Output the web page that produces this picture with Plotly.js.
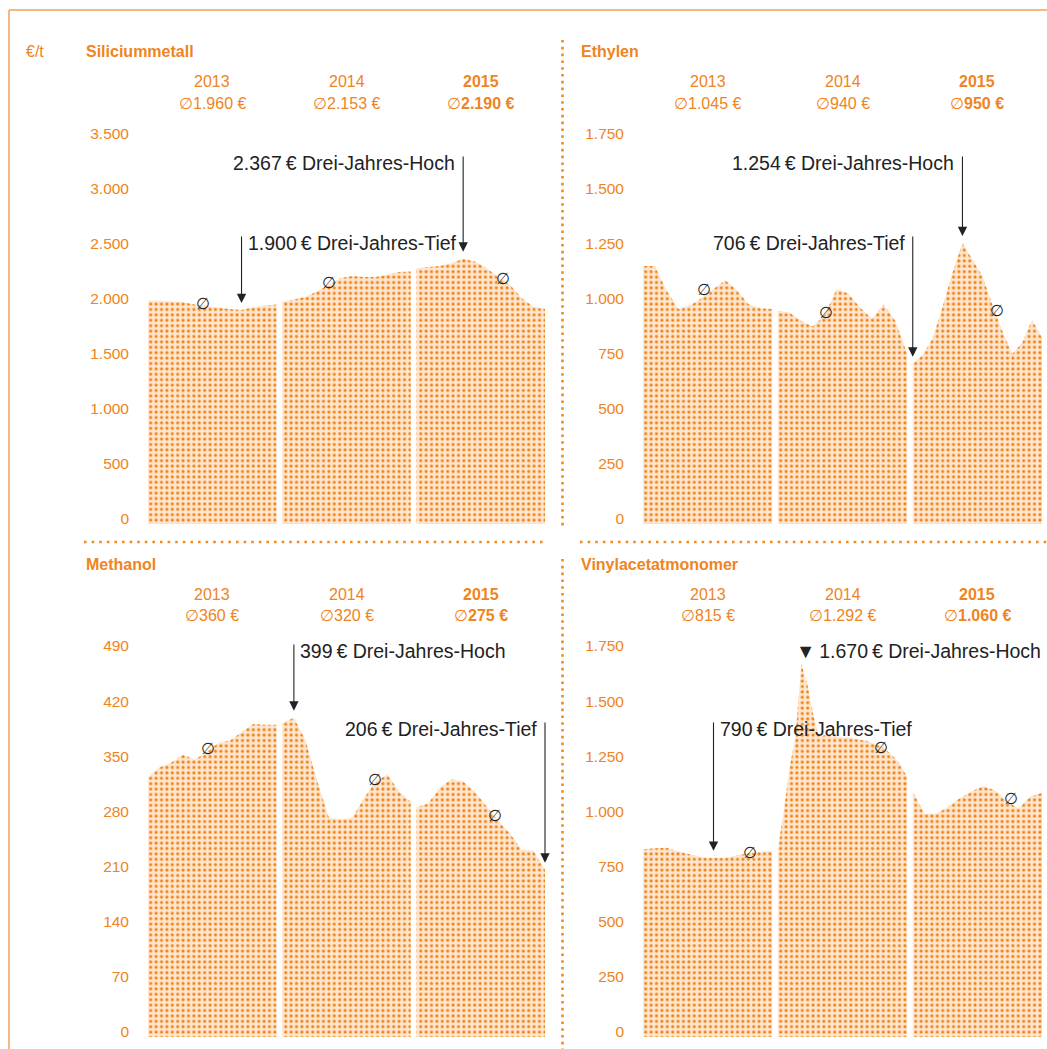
<!DOCTYPE html>
<html>
<head>
<meta charset="utf-8">
<script src="https://cdn.plot.ly/plotly-3.0.1.min.js"></script>
<style>html,body{margin:0;padding:0;background:#fff}#chart{width:1047px;height:1049px}</style>
</head>
<body>
<div id="chart"></div>
<script>
// ---------------- DATA ----------------
const years = ['2013', '2014', '2015'];
const unitLabel = '€/t';

// Siliciummetall
const siliciumTitle = 'Siliciummetall';
const silicium2013 = [1985, 1985, 1980, 1970, 1950, 1935, 1925, 1910, 1900, 1925, 1940, 1950];
const silicium2014 = [1975, 1995, 2020, 2070, 2130, 2190, 2210, 2200, 2200, 2225, 2245, 2250];
const silicium2015 = [2280, 2290, 2300, 2325, 2367, 2340, 2280, 2200, 2130, 2010, 1930, 1910];
const siliciumAvg = [1960, 2153, 2190];
const siliciumAvgText = ['1.960 €', '2.153 €', '2.190 €'];
const siliciumTicks = [0, 500, 1000, 1500, 2000, 2500, 3000, 3500];
const siliciumHighText = '2.367\u2009€ Drei-Jahres-Hoch';
const siliciumLowText = '1.900\u2009€ Drei-Jahres-Tief';

// Ethylen
const ethylenTitle = 'Ethylen';
const ethylen2013 = [1150, 1150, 1040, 955, 970, 1005, 1045, 1085, 1040, 975, 958, 955];
const ethylen2014 = [947, 937, 900, 875, 930, 1044, 1025, 960, 910, 975, 900, 750];
const ethylen2015 = [706, 745, 820, 965, 1120, 1254, 1180, 1105, 975, 855, 750, 800, 905, 825];
const ethylenAvg = [1045, 940, 950];
const ethylenAvgText = ['1.045 €', '940 €', '950 €'];
const ethylenTicks = [0, 250, 500, 750, 1000, 1250, 1500, 1750];
const ethylenHighText = '1.254\u2009€ Drei-Jahres-Hoch';
const ethylenLowText = '706\u2009€ Drei-Jahres-Tief';

// Methanol
const methanolTitle = 'Methanol';
const methanol2013 = [323, 336, 342, 352, 346, 355, 367, 370, 380, 391, 390, 390];
const methanol2014 = [392, 399, 370, 318, 272, 270, 272, 297, 318, 327, 305, 292];
const methanol2015 = [285, 290, 310, 321, 318, 305, 287, 268, 252, 231, 230, 206];
const methanolAvg = [360, 320, 275];
const methanolAvgText = ['360 €', '320 €', '275 €'];
const methanolTicks = [0, 70, 140, 210, 280, 350, 420, 490];
const methanolHighText = '399\u2009€ Drei-Jahres-Hoch';
const methanolLowText = '206\u2009€ Drei-Jahres-Tief';

// Vinylacetatmonomer
const vamTitle = 'Vinylacetatmonomer';
const vam2013 = [828, 833, 835, 818, 805, 792, 790, 790, 800, 810, 816, 822];
const vam2014 = [830, 1000, 1200, 1340, 1670, 1580, 1440, 1340, 1345, 1340, 1340, 1335, 1335, 1330, 1325, 1320, 1310, 1300, 1290, 1265, 1240, 1205, 1155];
const vam2015 = [1090, 990, 990, 1020, 1060, 1090, 1115, 1095, 1045, 1014, 1067, 1085];
const vamAvg = [815, 1292, 1060];
const vamAvgText = ['815 €', '1.292 €', '1.060 €'];
const vamTicks = [0, 250, 500, 750, 1000, 1250, 1500, 1750];
const vamHighText = '▼\u20091.670\u2009€ Drei-Jahres-Hoch';
const vamLowText = '790\u2009€ Drei-Jahres-Tief';

// ---------------- STYLE / LAYOUT ----------------
const W = 1047, H = 1049;
const ORANGE = '#ef8420';
const DARK = '#222222';
const FONT = 'Liberation Sans, Arial, Helvetica, sans-serif';
const YEAR_SPAN = 11.5, YEAR_STEP = 12, X_MAX = 35.5;
const px2x = px => px / W;
const py2y = py => 1 - py / H;

const panels = [
  {title: siliciumTitle, series: [silicium2013, silicium2014, silicium2015], avg: siliciumAvg, avgText: siliciumAvgText,
   ticks: siliciumTicks, hiText: siliciumHighText, loText: siliciumLowText,
   g: {x0: 148, x1: 545, zero: 519, top: 134, titleX: 84, titleY: 52, hdrY: [82, 103]},
   hi: {tail: 155, side: 'left', arrow: true}, lo: {tail: 235, side: 'right', arrow: true},
   markFrac: [0.43, 0.36, 0.67]},
  {title: ethylenTitle, series: [ethylen2013, ethylen2014, ethylen2015], avg: ethylenAvg, avgText: ethylenAvgText,
   ticks: ethylenTicks, hiText: ethylenHighText, loText: ethylenLowText,
   g: {x0: 643, x1: 1042, zero: 519, top: 134, titleX: 579, titleY: 52, hdrY: [82, 103]},
   hi: {tail: 155, side: 'left', arrow: true}, lo: {tail: 235, side: 'left', arrow: true},
   markFrac: [0.47, 0.37, 0.65]},
  {title: methanolTitle, series: [methanol2013, methanol2014, methanol2015], avg: methanolAvg, avgText: methanolAvgText,
   ticks: methanolTicks, hiText: methanolHighText, loText: methanolLowText,
   g: {x0: 148, x1: 545, zero: 1032, top: 646, titleX: 84, titleY: 564, hdrY: [594, 615]},
   hi: {tail: 643, side: 'right', arrow: true}, lo: {tail: 721, side: 'left', arrow: true},
   markFrac: [0.47, 0.72, 0.61]},
  {title: vamTitle, series: [vam2013, vam2014, vam2015], avg: vamAvg, avgText: vamAvgText,
   ticks: vamTicks, hiText: vamHighText, loText: vamLowText,
   g: {x0: 643, x1: 1042, zero: 1032, top: 646, titleX: 579, titleY: 564, hdrY: [594, 615]},
   hi: {tail: 643, side: 'rightNoArrow', arrow: false}, lo: {tail: 721, side: 'right', arrow: true},
   markFrac: [0.83, 0.80, 0.76]}
];

const traces = [];
const annotations = [];
const layout = {
  width: W, height: H,
  margin: {l: 0, r: 0, t: 0, b: 0},
  paper_bgcolor: '#ffffff', plot_bgcolor: 'rgba(0,0,0,0)',
  showlegend: false, separators: ',.',
  font: {family: FONT, color: ORANGE},
  annotations: annotations,
  shapes: []
};

const xAt = (k, i, n) => k * YEAR_STEP + YEAR_SPAN * i / (n - 1);

panels.forEach((p, pi) => {
  const id = pi === 0 ? '' : String(pi + 1);
  const xa = 'x' + id, ya = 'y' + id;
  const g = p.g;
  const topVal = p.ticks[p.ticks.length - 1];
  const scale = (g.zero - g.top) / topVal; // px per unit
  const base = -5 / scale;

  layout['xaxis' + id] = {domain: [px2x(g.x0), px2x(g.x1)], range: [0, X_MAX], visible: false, fixedrange: true};
  layout['yaxis' + id] = {
    domain: [py2y(g.zero + 5), py2y(g.top)], range: [base, topVal], anchor: xa,
    tickvals: p.ticks, tickformat: ',d', showgrid: false, zeroline: false, showline: false, ticks: '',
    tickfont: {size: 15.5, color: ORANGE, family: FONT}, ticklabelstandoff: 18, fixedrange: true
  };

  let hiV = -Infinity, loV = Infinity, hiX = 0, loX = 0;
  p.series.forEach((vals, k) => {
    const n = vals.length;
    const xs = [k * YEAR_STEP], ys = [base];
    vals.forEach((v, i) => {
      const xv = xAt(k, i, n);
      xs.push(xv); ys.push(v);
      if (v > hiV) { hiV = v; hiX = xv; }
      if (v < loV) { loV = v; loX = xv; }
    });
    xs.push(k * YEAR_STEP + YEAR_SPAN); ys.push(base);
    traces.push({
      type: 'scatter', mode: 'lines', x: xs, y: ys, xaxis: xa, yaxis: ya,
      fill: 'toself', line: {width: 0, color: 'rgba(0,0,0,0)'},
      fillcolor: '#fde5cf',
      fillpattern: {shape: '.', bgcolor: '#fde5cf', fgcolor: '#f08212', size: 5.4, solidity: 0.26},
      hoverinfo: 'skip'
    });

    // year header
    const cx = k * YEAR_STEP + YEAR_SPAN / 2;
    const bold = k === 2;
    annotations.push({xref: xa, yref: 'paper', x: cx, y: py2y(g.hdrY[0]), yanchor: 'middle', xanchor: 'center',
      text: bold ? '<b>' + years[k] + '</b>' : years[k], showarrow: false, font: {size: 16, color: ORANGE, family: FONT}});
    annotations.push({xref: xa, yref: 'paper', x: cx, y: py2y(g.hdrY[1]), yanchor: 'middle', xanchor: 'center',
      text: '∅' + (bold ? '<b>' + p.avgText[k] + '</b>' : p.avgText[k]), showarrow: false,
      font: {size: 16, color: ORANGE, family: FONT}});

    // average marker on the curve
    annotations.push({xref: xa, yref: ya, x: k * YEAR_STEP + YEAR_SPAN * p.markFrac[k], y: p.avg[k],
      xanchor: 'center', yanchor: 'middle', text: '∅', showarrow: false,
      font: {size: 16, color: DARK, family: 'DejaVu Sans, sans-serif'}});
  });

  // panel title
  annotations.push({xref: 'paper', yref: 'paper', x: px2x(g.titleX), y: py2y(g.titleY), xanchor: 'left', yanchor: 'middle',
    text: '<b>' + p.title + '</b>', showarrow: false, font: {size: 16, color: ORANGE, family: FONT}});

  // high / low annotations
  [[p.hi, hiV, hiX, p.hiText], [p.lo, loV, loX, p.loText]].forEach(([spec, v, xv, txt]) => {
    const valPx = g.zero - v * scale;
    if (spec.arrow) {
      annotations.push({xref: xa, yref: ya, x: xv, y: v, ax: 0, ay: -(valPx - spec.tail), axref: 'pixel', ayref: 'pixel',
        text: '', showarrow: true, arrowhead: 2, arrowsize: 1.7, arrowwidth: 1.1, arrowcolor: DARK, standoff: 7,
        font: {size: 1}});
    }
    const left = spec.side === 'left';
    annotations.push({xref: xa, yref: 'paper', x: xv, y: py2y(spec.tail + 8),
      xshift: left ? -6 : (spec.arrow ? 4 : -7), xanchor: left ? 'right' : 'left', yanchor: 'middle',
      text: txt, showarrow: false, font: {size: 19.5, color: DARK, family: FONT}});
  });
});

// unit label
annotations.push({xref: 'paper', yref: 'paper', x: px2x(24), y: py2y(52), xanchor: 'left', yanchor: 'middle',
  text: unitLabel, showarrow: false, font: {size: 16, color: ORANGE, family: FONT}});

// frame + separators
const frame = {color: '#f1a15c', width: 1.5};
const dotH = {color: '#f28a1e', width: 2.6, dash: '2.6px,5px'};
const dotV = {color: '#f28a1e', width: 2.6, dash: '2.6px,4.2px'};
layout.shapes.push(
  {type: 'line', xref: 'paper', yref: 'paper', x0: px2x(9), x1: 1, y0: py2y(10), y1: py2y(10), line: frame},
  {type: 'line', xref: 'paper', yref: 'paper', x0: px2x(9), x1: px2x(9), y0: py2y(10), y1: 0, line: frame},
  {type: 'line', xref: 'paper', yref: 'paper', x0: px2x(562.5), x1: px2x(562.5), y0: py2y(40), y1: py2y(526), line: dotV},
  {type: 'line', xref: 'paper', yref: 'paper', x0: px2x(562.5), x1: px2x(562.5), y0: py2y(559), y1: 0, line: dotV},
  {type: 'line', xref: 'paper', yref: 'paper', x0: px2x(84), x1: px2x(547), y0: py2y(542), y1: py2y(542), line: dotH},
  {type: 'line', xref: 'paper', yref: 'paper', x0: px2x(580), x1: 1, y0: py2y(542), y1: py2y(542), line: dotH}
);

Plotly.newPlot('chart', traces, layout, {displayModeBar: false, staticPlot: true});
</script>
</body>
</html>
